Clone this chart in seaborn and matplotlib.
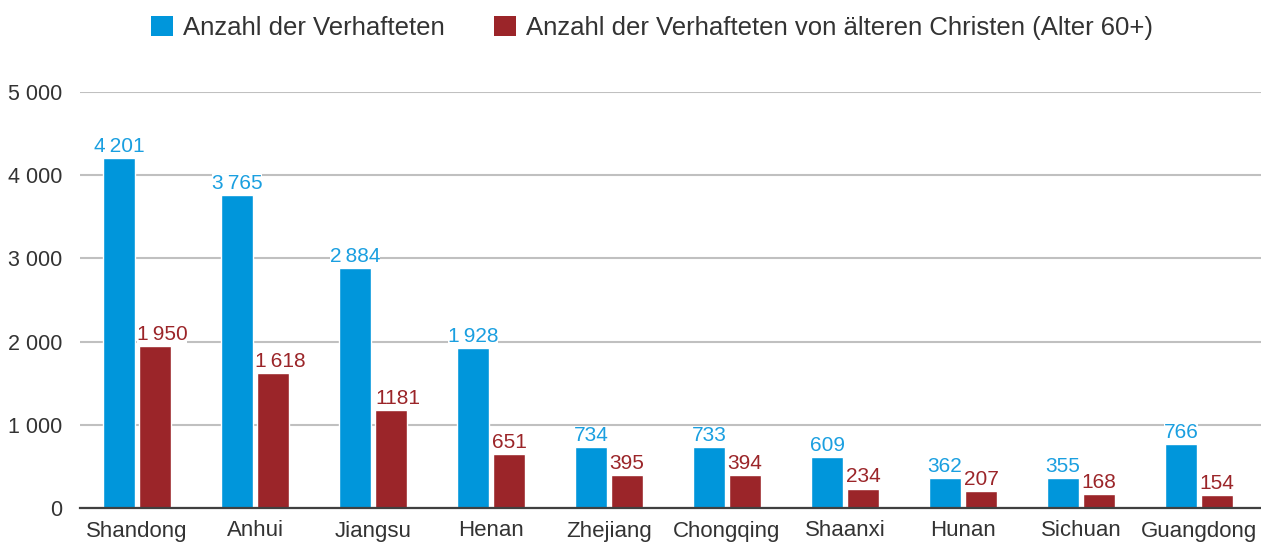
import matplotlib
matplotlib.use("Agg")
import matplotlib.pyplot as plt
import seaborn as sns
import pandas as pd
from matplotlib.patches import Patch

provinces = ["Shandong", "Anhui", "Jiangsu", "Henan", "Zhejiang", "Chongqing",
             "Shaanxi", "Hunan", "Sichuan", "Guangdong"]
arrested = [4201, 3765, 2884, 1928, 734, 733, 609, 362, 355, 766]
arrested_elderly = [1950, 1618, 1181, 651, 395, 394, 234, 207, 168, 154]
arrested_labels = ["4\u2009201", "3\u2009765", "2\u2009884", "1\u2009928", "734", "733",
                   "609", "362", "355", "766"]
elderly_labels = ["1\u2009950", "1\u2009618", "1181", "651", "395", "394", "234", "207",
                  "168", "154"]
series_names = ["Anzahl der Verhafteten",
                "Anzahl der Verhafteten von älteren Christen (Alter 60+)"]
yticks = [0, 1000, 2000, 3000, 4000, 5000]
ytick_labels = ["0", "1 000", "2 000", "3 000", "4 000", "5 000"]

BLUE = "#0096DB"
RED = "#9B2529"
TEXT = "#333333"

df = pd.DataFrame({
    "Provinz": provinces * 2,
    "Wert": arrested + arrested_elderly,
    "Serie": [series_names[0]] * len(provinces) + [series_names[1]] * len(provinces),
})

sns.set_theme(style="white")
plt.rcParams["font.family"] = ["Liberation Sans", "DejaVu Sans"]

fig = plt.figure(figsize=(12.61, 5.46), dpi=100)
ax = fig.add_axes([80 / 1261, 1 - 508 / 546, 1 - 80 / 1261, (508 - 92) / 546])

sns.barplot(data=df, x="Provinz", y="Wert", hue="Serie", order=provinces,
            hue_order=series_names, palette=[BLUE, RED], width=0.61, gap=0.11,
            saturation=1, legend=False, ax=ax, zorder=4)

ax.set_ylim(0, 5000)
ax.set_xlim(-0.483, len(provinces) - 1 + 0.525)
ax.set_yticks(yticks)
ax.set_yticklabels(ytick_labels)
ax.set_xlabel("")
ax.set_ylabel("")
ax.grid(axis="y", color="#C0C0C0", linewidth=1.5, zorder=0)
ax.set_axisbelow(True)
for s in ["top", "right", "left"]:
    ax.spines[s].set_visible(False)
ax.spines["bottom"].set_color("#404040")
ax.spines["bottom"].set_linewidth(1.6)
ax.spines["bottom"].set_zorder(5)
ax.tick_params(axis="y", length=0, pad=13, labelsize=15.5, labelcolor=TEXT)
ax.tick_params(axis="x", length=0, pad=9, labelsize=16, labelcolor=TEXT)

label_sets = [(arrested_labels, "#1A9FE0", 0), (elderly_labels, RED, 5)]
for container, (labels, col, shift) in zip(ax.containers, label_sets):
    for bar, lab in zip(container, labels):
        dx = shift if len(lab) >= 4 else 0
        ax.annotate(lab, (bar.get_x() + bar.get_width() / 2, bar.get_height()),
                    xytext=(dx, 1.5), textcoords="offset points", ha="center", va="bottom",
                    fontsize=15, color=col, zorder=6,
                    bbox=dict(boxstyle="square,pad=0.0", fc="white", ec="none"))

handles = [Patch(facecolor=BLUE, edgecolor="none"), Patch(facecolor=RED, edgecolor="none")]
fig.legend(handles, series_names, loc="center", bbox_to_anchor=(0.517, 0.949), ncol=2,
           frameon=False, fontsize=18.5, handlelength=0.85, handleheight=0.85,
           handletextpad=0.4, columnspacing=1.9, labelcolor=TEXT)

fig.savefig("out.png", dpi=100)
